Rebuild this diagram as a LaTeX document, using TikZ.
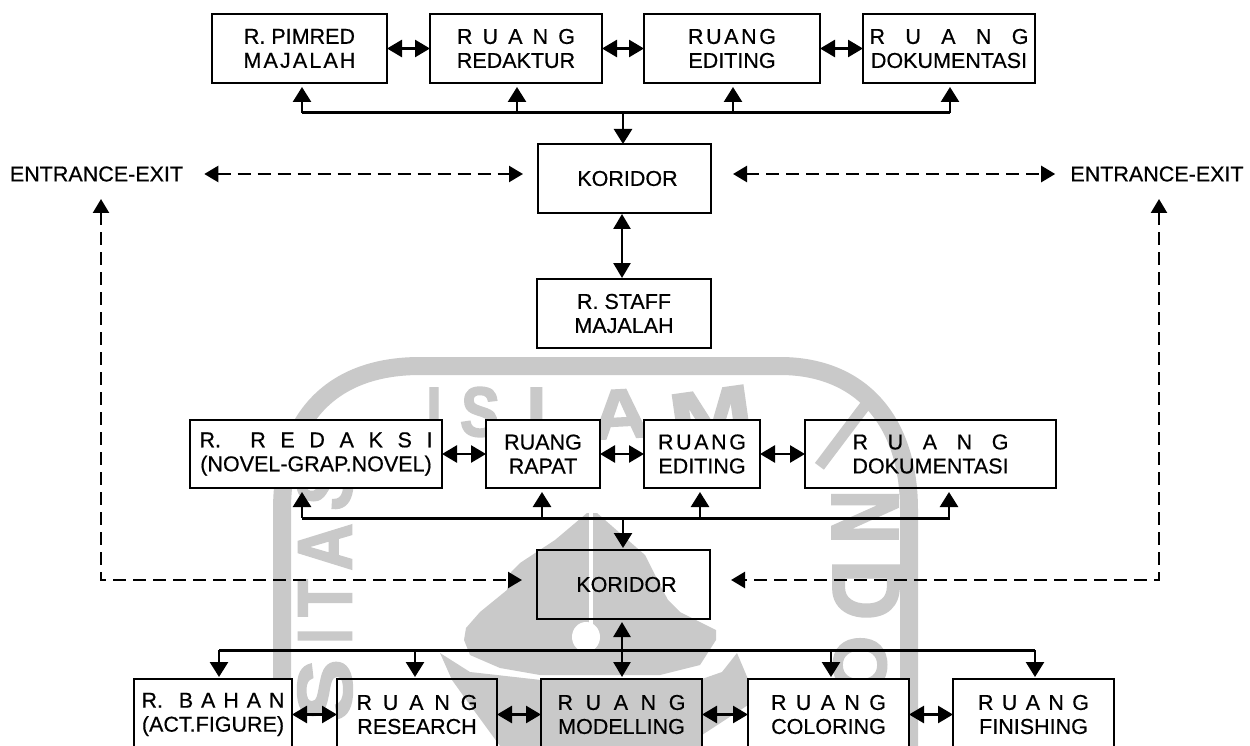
\documentclass[tikz,border=0pt]{standalone}
\usepackage{fontspec}
\setmainfont[FakeBold=0.5]{Liberation Sans}
\newfontfamily\wmfont[FakeBold=2.5]{Liberation Sans Bold}
\usetikzlibrary{arrows.meta}
\definecolor{wm}{HTML}{C9C9C9}
\newcommand{\spr}[2]{\makebox[#1pt][s]{#2}}
\newcommand{\wml}[3]{{\fontsize{#1}{#1}\wmfont\scalebox{#2}[1]{#3}}}
\tikzset{
  px/.style={x=1pt,y=-1pt},
  room/.style={draw=black,line width=1.4pt,inner sep=0pt,outer sep=0pt,font=\fontsize{21.5}{24}\selectfont,align=center},
  whiteroom/.style={room,fill=white},
  biarrow/.style={line width=2.6pt,{Triangle[length=15pt,width=17pt]}-{Triangle[length=15pt,width=17pt]}},
  feed/.style={line width=2.6pt,-{Triangle[length=15pt,width=18pt]}},
  bus/.style={line width=3pt},
  dashlink/.style={line width=2.4pt,dash pattern=on 13pt off 7pt,{Triangle[length=14pt,width=16pt]}-{Triangle[length=14pt,width=16pt]}},
  label/.style={inner sep=0pt,font=\fontsize{21.5}{24}\selectfont},
  wmletter/.style={text=wm,inner sep=0pt},
}
\begin{document}
\begin{tikzpicture}[px]
\useasboundingbox (0,0) rectangle (1250,746);
\clip (0,0) rectangle (1250,746);
\fill[white] (0,0) rectangle (1250,746);
% watermark
\draw[wm,line width=18pt] (282,760) -- (282,510) .. controls (282,420) and (330,366) .. (420,366) -- (780,366) .. controls (860,366) and (909,420) .. (909,510) -- (909,760);
\fill[wm] (587,513) -- (555,540) -- (520,563) -- (511,572) -- (507,590) -- (480,612) -- (466,628) -- (464,640) -- (470,655) -- (500,668) -- (540,675) -- (660,675) -- (700,665) -- (716,640) -- (716,630) -- (680,612) -- (668,600) -- (660,585) -- (645,555) -- (597,513) -- cycle;
\draw[white,line width=4pt] (591,513) -- (591,625);
\fill[white] (586,637) ellipse (14pt and 15pt);
\fill[wm] (440,653) -- (470,672) -- (541,680) -- (541,746) -- (500,746) -- (470,705) -- (452,680) -- cycle;
\fill[wm] (737,653) -- (748,679) -- (748,705) -- (702,735) -- (702,679) -- (722,672) -- cycle;
\node[wmletter] (w1) at (434,412) {\wml{70}{0.8}{I}};
\node[wmletter,rotate=-3] (w2) at (480,412) {\wml{70}{0.83}{S}};
\node[wmletter] (w3) at (548,412) {\wml{70}{1}{L}};
\node[wmletter,rotate=3] (w4) at (620,414) {\wml{70}{1.16}{A}};
\node[wmletter,rotate=8] (w5) at (711,414) {\wml{70}{1.43}{M}};
\node[wmletter,rotate=75] (w6) at (325,487) {\wml{77}{0.8}{S}};
\node[wmletter,rotate=90] (w7) at (325,547) {\wml{77}{0.85}{A}};
\node[wmletter,rotate=90] (w8) at (325,598) {\wml{77}{0.8}{T}};
\node[wmletter,rotate=90] (w9) at (325,636) {\wml{77}{0.7}{I}};
\node[wmletter,rotate=90] (w10) at (325,690) {\wml{77}{1.2}{S}};
\node[wmletter,rotate=-37] (w15) at (843,435) {\wml{110}{0.6}{I}};
\node[wmletter,rotate=-90] (w12) at (865,517) {\wml{95}{0.79}{N}};
\node[wmletter,rotate=-90] (w13) at (866,590) {\wml{95}{0.88}{D}};
\node[wmletter,rotate=-90] (w14) at (860,665) {\wml{75}{1}{O}};
% rooms
\newcommand{\roomat}[7]{\node[#7,minimum width={(#3)-(#2)},minimum height={(#5)-(#4)}] (#1) at ({((#2)+(#3))/2},{((#4)+(#5))/2}) {#6};}
\roomat{a}{212}{387}{14}{83}{R. PIMRED\\\spr{112}{M\hfil A\hfil J\hfil A\hfil L\hfil A\hfil H}}{room}
\roomat{b}{430}{602}{14}{83}{\spr{118}{R\hfil U\hfil A\hfil N\hfil G}\\REDAKTUR}{room}
\roomat{c}{644}{820}{14}{83}{\spr{88}{R\hfil U\hfil A\hfil N\hfil G}\\EDITING}{room}
\roomat{d}{863}{1035}{14}{83}{\spr{159}{R\hfil U\hfil A\hfil N\hfil G}\\DOKUMENTASI}{room}
\roomat{k1}{538}{711}{144}{213}{\hspace{6pt}KORIDOR}{room}
\roomat{st}{537}{711}{279}{348}{R. STAFF\\MAJALAH}{room}
\roomat{e}{190}{442}{420}{488}{\spr{233}{R.\hfil\hfil R\hfil E\hfil D\hfil A\hfil K\hfil S\hfil I}\\(NOVEL-GRAP.NOVEL)}{whiteroom}
\roomat{f}{486}{600}{420}{488}{RUANG\\RAPAT}{whiteroom}
\roomat{g}{644}{760}{420}{488}{\spr{88}{R\hfil U\hfil A\hfil N\hfil G}\\EDITING}{whiteroom}
\roomat{h}{805}{1056}{420}{488}{\spr{156}{R\hfil U\hfil A\hfil N\hfil G}\\DOKUMENTASI}{room}
\roomat{k2}{537}{710}{550}{619}{\hspace{6pt}KORIDOR}{room}
\roomat{i}{134}{292}{679}{750}{\spr{143}{R.\hfil\hfil B\hfil A\hfil H\hfil A\hfil N}\\(ACT.FIGURE)}{whiteroom}
\roomat{j}{337}{497}{679}{750}{\spr{121}{R\hfil U\hfil A\hfil N\hfil G}\\RESEARCH}{room}
\roomat{m}{541}{702}{679}{750}{\spr{128}{R\hfil U\hfil A\hfil N\hfil G}\\MODELLING}{room,fill=wm}
\roomat{l}{748}{909}{679}{750}{\spr{115}{R\hfil U\hfil A\hfil N\hfil G}\\COLORING}{whiteroom}
\roomat{n}{953}{1114}{679}{750}{\spr{111}{R\hfil U\hfil A\hfil N\hfil G}\\FINISHING}{whiteroom}
\node[label] (enl) at (96.5,174) {ENTRANCE-EXIT};
\node[label] (enr) at (1157,174) {ENTRANCE-EXIT};
% side links
\foreach \p/\q in {a/b,b/c,c/d,e/f,f/g,g/h,i/j,j/m,m/l,l/n}{\draw[biarrow] (\p.east) -- (\q.west);}
% top bus
\coordinate (t1) at (302,113); \coordinate (t2) at (950,113);
\draw[bus] (t1) -- (t2);
\foreach \n/\r/\x in {ta/a/302,tb/b/517,tc/c/733,td/d/950}{\coordinate (\n) at (\x,113); \draw[feed,shorten >=4pt] (\n) -- (\n |- \r.south);}
\coordinate (tk) at (623,113);
\draw[feed] (tk) -- (tk |- k1.north);
\coordinate (ax) at (622,0);
\draw[biarrow,shorten <=1pt,shorten >=1pt] (k1.south -| ax) -- (st.north -| ax);
% middle bus
\coordinate (u1) at (302,518); \coordinate (u2) at (950,518);
\draw[bus] (u1) -- (u2);
\foreach \n/\r/\x in {ue/e/302,uf/f/542,ug/g/700,uh/h/949}{\coordinate (\n) at (\x,518); \draw[feed,shorten >=4pt] (\n) -- (\n |- \r.south);}
\coordinate (uk) at (623,518);
\draw[feed,shorten >=2pt] (uk) -- (uk |- k2.north);
% bottom bus
\coordinate (v1) at (219,650); \coordinate (v2) at (1035,650);
\draw[bus] (v1) -- (v2);
\foreach \n/\r/\x in {vi/i/219,vj/j/415,vl/l/831,vn/n/1035}{\coordinate (\n) at (\x,650); \draw[feed,shorten >=2pt] (\n) -- (\n |- \r.north);}
\draw[biarrow,shorten <=3pt,shorten >=2pt] (k2.south -| ax) -- (m.north -| ax);
% dashed
\draw[dashlink,shorten <=21pt,shorten >=15pt] (enl.east) -- (k1.west |- enl.east);
\draw[dashlink,shorten <=22pt,shorten >=15pt] (k1.east |- enr.west) -- (enr.west);
\coordinate (lt) at (101,199); \coordinate (lc) at (101,580); \coordinate (lk) at (522,580);
\coordinate (rt) at (1159,199); \coordinate (rc) at (1159,580); \coordinate (rk) at (731,580);
\draw[dashlink] (lt) -- (lc) -- (lk);
\draw[dashlink] (rt) -- (rc) -- (rk);
\end{tikzpicture}
\end{document}
